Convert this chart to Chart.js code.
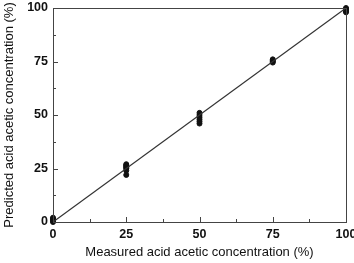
<!DOCTYPE html>
<html>
<head>
<meta charset="utf-8">
<script src="https://cdn.jsdelivr.net/npm/chart.js@4.4.1/dist/chart.umd.min.js"></script>
<style>
  html, body { margin: 0; padding: 0; background: #fff; }
  #wrap { width: 354px; height: 263px; position: relative; }
</style>
</head>
<body>
<div id="wrap"><canvas id="chartId" width="354" height="263"></canvas></div>
<script>
// measured vs predicted (%)
var measured = [0, 0, 0, 0, 0,
    25, 25, 25, 25, 25, 25, 25,
    50, 50, 50, 50, 50, 50,
    75, 75, 75, 75,
    100, 100, 100, 100, 100];
var predicted = [0, 0.5, 1, 1.5, 2,
    22, 24, 25, 25.5, 26, 26.5, 27,
    46, 47, 48, 49, 50, 51,
    74.5, 75, 75.5, 76,
    98, 98.5, 99, 99.5, 100];
var fitLine = [0, 100];
var tickValues = [0, 25, 50, 75, 100];
var minorValues = [12.5, 37.5, 62.5, 87.5];

var FONT = "'Liberation Sans', Arial, sans-serif";

var points = measured.map(function(m, i) {
    return { x: m, y: predicted[i] };
});

// box frame and inward ticks
var frame = {
    id: 'frame',
    afterDraw: function(chart) {
        var ctx = chart.ctx;
        var a = chart.chartArea;
        var xs = chart.scales.x;
        var ys = chart.scales.y;
        ctx.save();
        ctx.strokeStyle = '#444';
        ctx.lineWidth = 1;
        ctx.strokeRect(a.left + 0.5, a.top + 0.5, a.right - a.left, a.bottom - a.top);
        ctx.beginPath();
        tickValues.forEach(function(v) {
            var px = Math.round(xs.getPixelForValue(v)) + 0.5;
            ctx.moveTo(px, a.bottom); ctx.lineTo(px, a.bottom - 5);
            var py = Math.round(ys.getPixelForValue(v)) + 0.5;
            ctx.moveTo(a.left, py); ctx.lineTo(a.left + 5, py);
        });
        minorValues.forEach(function(v) {
            var px = Math.round(xs.getPixelForValue(v)) + 0.5;
            ctx.moveTo(px, a.bottom); ctx.lineTo(px, a.bottom - 3);
            var py = Math.round(ys.getPixelForValue(v)) + 0.5;
            ctx.moveTo(a.left, py); ctx.lineTo(a.left + 3, py);
        });
        ctx.stroke();
        ctx.restore();
    }
};

new Chart(document.getElementById('chartId').getContext('2d'), {
    type: 'scatter',
    data: {
        datasets: [{
            type: 'line',
            data: fitLine.map(function(v) { return { x: v, y: v }; }),
            borderColor: '#333',
            borderWidth: 1.2,
            pointRadius: 0,
            fill: false
        }, {
            data: points,
            backgroundColor: '#111',
            borderColor: '#111',
            pointRadius: 2.5,
            clip: false
        }]
    },
    options: {
        responsive: false,
        animation: false,
        layout: { padding: { top: 8, right: 8, left: 0, bottom: 0 } },
        plugins: { legend: { display: false }, tooltip: { enabled: false } },
        scales: {
            x: {
                type: 'linear',
                min: 0, max: 100,
                afterFit: function(s) { s.height = 41; s.paddingRight = 0; s.paddingLeft = 0; },
                afterBuildTicks: function(s) { s.ticks = tickValues.map(function(v) { return { value: v }; }); },
                grid: { display: false, drawTicks: false },
                border: { display: false },
                ticks: { color: '#111', padding: 5, font: { family: FONT, size: 12.5, weight: 'bold' } },
                title: { display: true, text: 'Measured acid acetic concentration (%)', color: '#111', padding: { top: 4, bottom: 3 }, font: { family: FONT, size: 13 } }
            },
            y: {
                type: 'linear',
                min: 0, max: 100,
                afterFit: function(s) { s.width = 53; s.paddingTop = 0; s.paddingBottom = 0; },
                afterBuildTicks: function(s) { s.ticks = tickValues.map(function(v) { return { value: v }; }); },
                grid: { display: false, drawTicks: false },
                border: { display: false },
                ticks: { color: '#111', padding: 5, font: { family: FONT, size: 12.5, weight: 'bold' } },
                title: { display: true, text: 'Predicted acid acetic concentration (%)', color: '#111', padding: { top: 2, bottom: 6 }, font: { family: FONT, size: 13 } }
            }
        }
    },
    plugins: [frame]
});
</script>
</body>
</html>
